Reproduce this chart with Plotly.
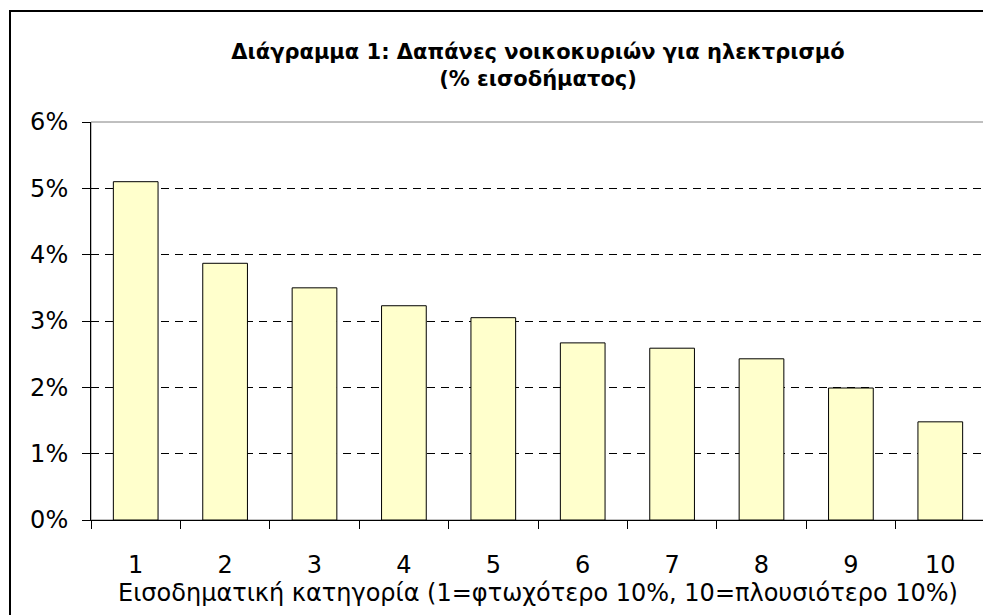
import plotly.graph_objects as go

categories = ["1", "2", "3", "4", "5", "6", "7", "8", "9", "10"]
values = [0.051, 0.0387, 0.035, 0.0323, 0.0305, 0.0267, 0.0259, 0.0243, 0.0199, 0.0148]
title_text = "Διάγραμμα 1: Δαπάνες νοικοκυριών για ηλεκτρισμό<br>(% εισοδήματος)"
x_title = "Εισοδηματική κατηγορία (1=φτωχότερο 10%, 10=πλουσιότερο 10%)"

FONT = "DejaVu Sans"

fig = go.Figure()
fig.add_trace(go.Bar(
    x=categories, y=values,
    marker=dict(color="#FFFFCC", line=dict(color="#000000", width=1)),
    hoverinfo="skip",
))

OFF = 8  # page body margin
W, H = 991, 615
L, R, T, B = 91 - OFF, 6 + OFF, 122 - OFF, 95 + OFF
pw, ph = W - L - R, H - T - B

def px_x(p):
    return (p - OFF - L) / pw

def px_y(p):
    return (H - B - (p - OFF)) / ph

fig.update_layout(
    width=W, height=H,
    margin=dict(l=L, r=R, t=T, b=B, pad=0),
    paper_bgcolor="white", plot_bgcolor="white",
    showlegend=False,
    bargap=0.5,
    font=dict(family=FONT, color="black"),
    title=dict(
        text=title_text,
        x=(538 - OFF) / W, xanchor="center",
        y=1 - (59 - OFF) / H, yanchor="middle", yref="container",
        font=dict(family=FONT, size=21, color="black", weight="bold"),
    ),
    xaxis=dict(
        type="category",
        showline=True, linecolor="black", linewidth=1,
        ticks="outside", ticklen=8, tickcolor="black", tickwidth=1,
        tickson="boundaries",
        showgrid=False,
        tickfont=dict(family=FONT, size=24, color="black"),
        ticklabelstandoff=23,
        title=dict(text=x_title, font=dict(family=FONT, size=24, color="black"), standoff=4),
    ),
    yaxis=dict(
        range=[0, 0.06], dtick=0.01, tickformat=".0%",
        showline=True, linecolor="black", linewidth=1,
        ticks="outside", ticklen=8, tickcolor="black", tickwidth=1,
        showgrid=True, gridcolor="black", gridwidth=1, griddash="8px,6px",
        zeroline=False,
        tickfont=dict(family=FONT, size=24, color="black"),
        ticklabelstandoff=9,
    ),
    shapes=[
        # plot area border (grey)
        dict(type="rect", xref="paper", yref="paper", x0=0, x1=1, y0=0, y1=1,
             line=dict(color="#808080", width=1), layer="below"),
        # outer chart border
        dict(type="rect", xref="paper", yref="paper",
             x0=px_x(10), x1=px_x(1010), y0=px_y(640), y1=px_y(11),
             line=dict(color="black", width=2), layer="below"),
    ],
)

fig.write_html("out.html")
